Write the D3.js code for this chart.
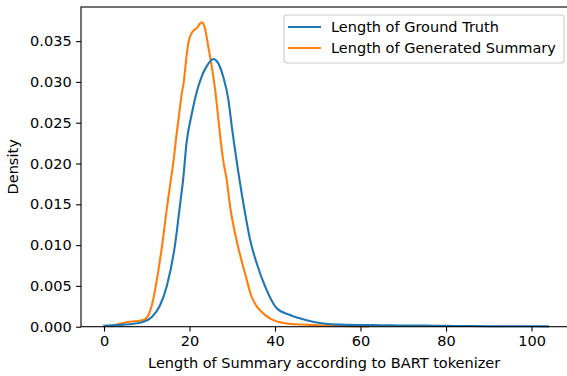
<!DOCTYPE html>
<html>
<head>
<meta charset="utf-8">
<script src="https://cdn.jsdelivr.net/npm/d3@7"></script>
<style>
  body { margin: 0; background: #fff; }
  text { font-family: "DejaVu Sans", sans-serif; fill: #000; }
</style>
</head>
<body>
<svg width="567" height="376"></svg>
<script>
// KDE curves: [token length, density]
var truthX = [-0.17, 3, 6, 9.2, 11.2, 13, 14.7, 16.6, 17.8, 18.5, 19.3, 20.5, 21.7, 22.8, 24.0, 25.6, 26.7, 27.9, 29.1, 29.9, 31.4, 33.0, 34.2, 35.7, 37.7, 40.4, 43.5, 47.4, 51.3, 55, 60, 65, 70, 75, 80, 85, 90, 95, 100, 104.1];
var truthY = [0.0001, 0.0002, 0.0003, 0.0006, 0.0012, 0.0025, 0.005, 0.010, 0.015, 0.018, 0.0225, 0.026, 0.0288, 0.0306, 0.0319, 0.0328, 0.0323, 0.0306, 0.0278, 0.0245, 0.0190, 0.0139, 0.0106, 0.0078, 0.0049, 0.00225, 0.00143, 0.0008, 0.0004, 0.00025, 0.0002, 0.00018, 0.00015, 0.00015, 0.0001, 0.00008, 0.00006, 0.00005, 0.00005, 0.00004];

var genX = [1.5, 4, 6, 9, 10, 11.5, 12.6, 13.6, 14.7, 15.5, 16.3, 17.0, 17.4, 18.2, 18.6, 19.3, 19.7, 20.5, 21.7, 22.85, 23.6, 24.4, 25.2, 26.0, 26.7, 27.1, 28.0, 28.7, 29.5, 31.0, 33.0, 34.5, 36.9, 39.6, 42.7, 49, 55, 62];
var genY = [0.00005, 0.0004, 0.0006, 0.0008, 0.0011, 0.0033, 0.0065, 0.0100, 0.0145, 0.0175, 0.0205, 0.0237, 0.0253, 0.0286, 0.0298, 0.0331, 0.0347, 0.036, 0.0366, 0.0373, 0.0366, 0.0343, 0.0319, 0.029, 0.0257, 0.0237, 0.020, 0.018, 0.0147, 0.0106, 0.0065, 0.0037, 0.0018, 0.0008, 0.0004, 0.0002, 0.0001, 0.00003];

var xTicks = [0, 20, 40, 60, 80, 100];
var yTicks = [0, 0.005, 0.010, 0.015, 0.020, 0.025, 0.030, 0.035];
var seriesNames = ["Length of Ground Truth", "Length of Generated Summary"];
var colors = ["#1f77b4", "#ff7f0e"];

var svg = d3.select("svg");
var plotL = 81, plotT = 7, plotR = 571.3, plotB = 326.7;
var fs = "14.5px";

var x = d3.scaleLinear().domain([-5.38, 109.3]).range([plotL, plotR]);
var y = d3.scaleLinear().domain([0, 0.03918]).range([plotB, plotT]);

var truth = truthX.map(function(v, i) { return [v, truthY[i]]; });
var gen = genX.map(function(v, i) { return [v, genY[i]]; });

var line = d3.line()
  .x(function(d) { return x(d[0]); })
  .y(function(d) { return y(d[1]); })
  .curve(d3.curveMonotoneX);

// seaborn draws the hue levels in reverse, so the first one ends on top
svg.append("path").datum(gen)
  .attr("d", line).attr("fill", "none")
  .attr("stroke", colors[1]).attr("stroke-width", 2.1);
svg.append("path").datum(truth)
  .attr("d", line).attr("fill", "none")
  .attr("stroke", colors[0]).attr("stroke-width", 2.1);

// axes
var xAxis = svg.append("g")
  .attr("transform", "translate(0," + plotB + ")")
  .call(d3.axisBottom(x).tickValues(xTicks).tickSize(4.9).tickPadding(4.5).tickFormat(d3.format("d")));
var yAxis = svg.append("g")
  .attr("transform", "translate(" + plotL + ",0)")
  .call(d3.axisLeft(y).tickValues(yTicks).tickSize(4.9).tickPadding(4.5).tickFormat(d3.format(".3f")));

[xAxis, yAxis].forEach(function(g) {
  g.select(".domain").remove();
  g.selectAll(".tick line").attr("stroke", "#000").attr("stroke-width", 1.1);
  g.selectAll(".tick text").style("font-size", fs).style("font-family", "DejaVu Sans").attr("fill", "#000");
});

// spines
svg.append("rect")
  .attr("x", plotL).attr("y", plotT)
  .attr("width", plotR - plotL).attr("height", plotB - plotT)
  .attr("fill", "none").attr("stroke", "#000").attr("stroke-width", 1.1);

svg.append("text")
  .attr("x", (plotL + plotR) / 2 - 2).attr("y", 368)
  .attr("text-anchor", "middle").style("font-size", fs)
  .text("Length of Summary according to BART tokenizer");

svg.append("text")
  .attr("transform", "translate(18," + ((plotT + plotB) / 2) + ") rotate(-90)")
  .attr("text-anchor", "middle").style("font-size", fs)
  .text("Density");

// legend
var legend = svg.append("g");
legend.append("rect")
  .attr("x", 284).attr("y", 15).attr("width", 280).attr("height", 48)
  .attr("rx", 3).attr("fill", "#fff").attr("fill-opacity", 0.8)
  .attr("stroke", "#ccc").attr("stroke-width", 1.1);

var item = legend.selectAll(".item")
  .data(seriesNames)
  .enter().append("g")
  .attr("transform", function(d, i) { return "translate(0," + (27 + i * 21) + ")"; });
item.append("line")
  .attr("x1", 288).attr("x2", 321)
  .attr("stroke", function(d, i) { return colors[i]; })
  .attr("stroke-width", 2.1);
item.append("text")
  .attr("x", 331).attr("y", 5)
  .style("font-size", fs)
  .text(function(d) { return d; });
</script>
</body>
</html>
